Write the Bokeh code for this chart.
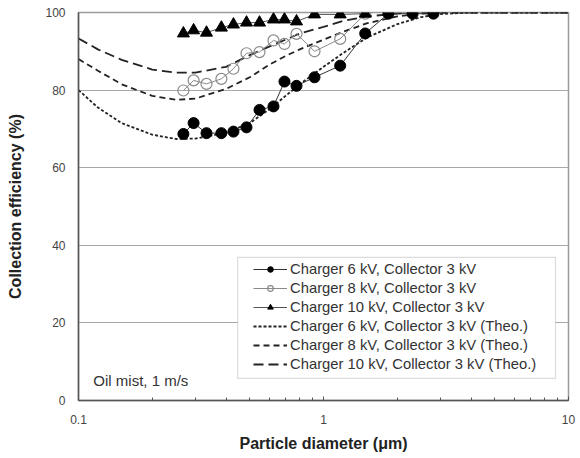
from bokeh.plotting import figure
from bokeh.models import (Range1d, FixedTicker, CustomJSTickFormatter, Label,
                          Legend, LegendItem, BoxAnnotation)
from bokeh.embed import file_html
from bokeh.resources import INLINE

# Measured collection efficiency (%) vs particle diameter (um)
diam = [0.268, 0.295, 0.333, 0.383, 0.429, 0.485, 0.548, 0.625, 0.693,
        0.776, 0.919, 1.17, 1.48, 1.84, 2.31, 2.81]
eff_6kv = [68.7, 71.5, 68.9, 68.9, 69.3, 70.4, 74.9, 75.8, 82.2, 81.1,
           83.3, 86.3, 94.6, 99.7, 99.7, 99.7]
eff_8kv = [79.9, 82.5, 81.6, 82.9, 85.5, 89.5, 89.8, 92.8, 91.9, 94.5,
           90.0, 93.2, 99.7]
eff_10kv = [94.6, 95.4, 94.8, 96.1, 96.9, 97.4, 97.4, 98.2, 98.2, 97.7,
            99.5, 99.5, 99.7]

# Theoretical curves
theo_d = [0.1, 0.12, 0.15, 0.2, 0.25, 0.3, 0.4, 0.5, 0.6, 0.7, 0.8, 1.0,
          1.2, 1.5, 2.0, 2.5, 3.0, 4.0, 5.0, 7.0, 10.0]
theo_6kv = [80.0, 75.5, 71.5, 68.5, 67.4, 67.5, 69.0, 71.5, 75.0, 78.5,
            81.5, 86.0, 89.5, 93.5, 97.0, 98.8, 99.6, 100, 100, 100, 100]
theo_8kv = [88.0, 85.0, 81.5, 78.5, 77.5, 77.8, 80.3, 83.3, 86.5, 88.8,
            90.5, 93.0, 95.0, 97.2, 99.0, 99.7, 100, 100, 100, 100, 100]
theo_10kv = [93.3, 90.5, 87.8, 85.3, 84.5, 84.5, 86.0, 89.0, 91.2, 93.0,
             94.6, 96.3, 97.8, 99.0, 99.7, 100, 100, 100, 100, 100, 100]

x_major = [0.1, 1, 10]
x_minor = [0.2, 0.3, 0.4, 0.5, 0.6, 0.7, 0.8, 0.9,
           2, 3, 4, 5, 6, 7, 8, 9]
y_ticks = [0, 20, 40, 60, 80, 100]

FONT = "Liberation Sans"

p = figure(width=580, height=458, x_axis_type="log",
           x_range=Range1d(0.1, 10), y_range=Range1d(0, 100),
           output_backend="svg", toolbar_location=None,
           min_border_left=78, min_border_right=12,
           min_border_top=12, min_border_bottom=58)
p.background_fill_color = "white"
p.border_fill_color = "white"
p.outline_line_color = "#9a9a9a"
p.outline_line_width = 1.5

# grid
p.xgrid.visible = False
p.ygrid.ticker = FixedTicker(ticks=[20, 40, 60, 80])
p.ygrid.grid_line_color = "#a8a8a8"
p.ygrid.grid_line_width = 1.2

# x axis
xa = p.xaxis[0]
xa.ticker = FixedTicker(ticks=x_major, minor_ticks=x_minor)
xa.formatter = CustomJSTickFormatter(code="return tick.toString();")
xa.axis_line_color = "#555555"
xa.axis_line_width = 1.5
xa.major_tick_in = 4
xa.major_tick_out = 0
xa.minor_tick_in = 3
xa.minor_tick_out = 0
xa.major_tick_line_color = "#555555"
xa.minor_tick_line_color = "#555555"
xa.major_label_text_font = FONT
xa.major_label_text_font_size = "12px"
xa.major_label_text_color = "#444444"
xa.major_label_standoff = 14
xa.axis_label = "Particle diameter (\u03bcm)"
xa.axis_label_text_font = FONT
xa.axis_label_text_font_style = "bold"
xa.axis_label_text_font_size = "16px"
xa.axis_label_text_color = "#222222"
xa.axis_label_standoff = 8

# y axis
ya = p.yaxis[0]
ya.ticker = FixedTicker(ticks=y_ticks)
ya.axis_line_color = "#555555"
ya.axis_line_width = 1.5
ya.major_tick_in = 0
ya.major_tick_out = 0
ya.minor_tick_line_color = None
ya.major_label_text_font = FONT
ya.major_label_text_font_size = "12px"
ya.major_label_text_color = "#444444"
ya.major_label_standoff = 13
ya.axis_label = "Collection efficiency (%)"
ya.axis_label_text_font = FONT
ya.axis_label_text_font_style = "bold"
ya.axis_label_text_font_size = "16px"
ya.axis_label_text_color = "#222222"
ya.axis_label_standoff = 18

# theoretical curves
t6 = p.line(theo_d, theo_6kv, line_color="#222222", line_width=1.8,
            line_dash="3 2")
t8 = p.line(theo_d, theo_8kv, line_color="#222222", line_width=1.8,
            line_dash="6 4")
t10 = p.line(theo_d, theo_10kv, line_color="#222222", line_width=1.8,
             line_dash="10 5")

# measured series
l6 = p.line(diam, eff_6kv, line_color="#333333", line_width=1)
m6 = p.scatter(diam, eff_6kv, marker="circle", size=11,
               fill_color="black", line_color="black")
n8 = len(eff_8kv)
l8 = p.line(diam[:n8], eff_8kv, line_color="#8a8a8a", line_width=1)
m8 = p.scatter(diam[:n8], eff_8kv, marker="circle", size=11,
               fill_color=None, line_color="#8a8a8a", line_width=1.2)
n10 = len(eff_10kv)
l10 = p.line(diam[:n10], eff_10kv, line_color="#555555", line_width=1)
m10 = p.scatter(diam[:n10], eff_10kv, marker="triangle", size=12,
                fill_color="black", line_color="black")

# legend frame
p.add_layout(BoxAnnotation(left=0.446, right=8.85, bottom=5.7, top=36.9,
                           fill_color="white", fill_alpha=1,
                           line_color="#8a8a8a", line_width=1.2))

legend = Legend(items=[
    LegendItem(label="Charger 6 kV, Collector 3 kV", renderers=[l6, m6]),
    LegendItem(label="Charger 8 kV, Collector 3 kV", renderers=[l8, m8]),
    LegendItem(label="Charger 10 kV, Collector 3 kV", renderers=[l10, m10]),
    LegendItem(label="Charger 6 kV, Collector 3 kV (Theo.)", renderers=[t6]),
    LegendItem(label="Charger 8 kV, Collector 3 kV (Theo.)", renderers=[t8]),
    LegendItem(label="Charger 10 kV, Collector 3 kV (Theo.)", renderers=[t10]),
], location=(175, 28))
legend.label_text_font = FONT
legend.label_text_font_size = "14.8px"
legend.label_text_color = "#333333"
legend.glyph_width = 34
legend.glyph_height = 14
legend.label_standoff = 3
legend.label_height = 17
legend.spacing = 2
legend.padding = 0
legend.margin = 0
legend.border_line_color = None
legend.background_fill_alpha = 0
p.add_layout(legend)

p.add_layout(Label(x=0.115, y=5.2, text="Oil mist, 1 m/s",
                   text_font=FONT, text_font_size="15px",
                   text_color="#333333", text_baseline="middle"))

open("out.html", "w").write(file_html(p, INLINE))
